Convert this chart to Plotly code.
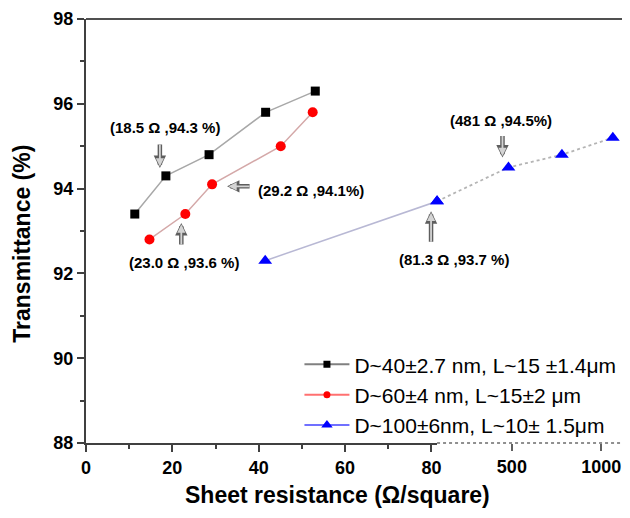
import plotly.graph_objects as go

# ---- data ----
black_x = [11.3, 18.5, 28.5, 41.6, 53.1]
black_y = [93.4, 94.3, 94.8, 95.8, 96.3]
red_x = [14.7, 23.0, 29.2, 45.1, 52.5]
red_y = [92.8, 93.4, 94.1, 95.0, 95.8]
blue_x = [41.5, 81.3, 481, 780, 1065]
blue_y = [92.3, 93.7, 94.5, 94.8, 95.2]

names = ["D~40±2.7 nm, L~15 ±1.4μm", "D~60±4 nm, L~15±2 μm", "D~100±6nm, L~10± 1.5μm"]

x1_ticks = [0, 20, 40, 60, 80]
x2_ticks = [500, 1000]
y_ticks = [88, 90, 92, 94, 96, 98]

BREAK = 81.3
X2_END = 1133

FONT = "Liberation Sans, Arial, sans-serif"

fig = go.Figure()

fig.add_trace(go.Scatter(x=black_x, y=black_y, mode="lines+markers", xaxis="x", yaxis="y",
                         line=dict(color="#a8a8a8", width=1.5),
                         marker=dict(symbol="square", size=9, color="black"), showlegend=False))
fig.add_trace(go.Scatter(x=red_x, y=red_y, mode="lines+markers", xaxis="x", yaxis="y",
                         line=dict(color="#d4a8a8", width=1.5),
                         marker=dict(symbol="circle", size=10, color="#ff0000"), showlegend=False))
fig.add_trace(go.Scatter(x=blue_x[:2], y=blue_y[:2], mode="lines+markers", xaxis="x", yaxis="y",
                         line=dict(color="#b8b8d4", width=1.5), cliponaxis=False,
                         marker=dict(symbol="triangle-up", size=12, color="#0000ff"), showlegend=False))
fig.add_trace(go.Scatter(x=blue_x[1:], y=blue_y[1:], mode="lines+markers", xaxis="x2", yaxis="y",
                         line=dict(color="#b4b4b4", width=1.8, dash="dot"), cliponaxis=False,
                         marker=dict(symbol="triangle-up", size=12, color="#0000ff"), showlegend=False))

# legend-only entries
leg_styles = [("#808080", "square", 7, "black"),
              ("#ff7070", "circle", 7, "#ff0000"),
              ("#7070ff", "triangle-up", 10, "#0000ff")]
for nm, (lc, sym, sz, mc) in zip(names, leg_styles):
    fig.add_trace(go.Scatter(x=[None], y=[None], mode="lines+markers", name=nm, xaxis="x", yaxis="y",
                             line=dict(color=lc, width=2), marker=dict(symbol=sym, size=sz, color=mc)))

f = (BREAK * 4.35) / 543.0

annos = []
# (xref, x, y, text, text dx, text dy, arrow head dx, head dy, tail dx, tail dy)  [screen px, y down]
labels = [
    ("x", 18.5, 94.3, "(18.5 Ω ,94.3 %)", -1, -48, -6, -8, -6, -33),
    ("x", 29.2, 94.1, "(29.2 Ω ,94.1%)", 99, 6, 15, 2, 39, 2),
    ("x", 23.0, 93.4, "(23.0 Ω ,93.6 %)", -1, 48, -4, 9, -4, 32),
    ("x2", 481, 94.5, "(481 Ω ,94.5%)", -7, -47, -6, -10, -6, -33),
    ("x", 81.3, 93.7, "(81.3 Ω ,93.7 %)", 17, 58, -6, 10, -6, 42),
]
for xr, x, y, t, tdx, tdy, hdx, hdy, adx, ady in labels:
    annos.append(dict(xref=xr, yref="y", x=x, y=y, text="<b>%s</b>" % t, showarrow=False,
                      xshift=tdx, yshift=-tdy, font=dict(family=FONT, size=15, color="black")))
    # hollow-looking block arrow: dark outline + light fill
    annos.append(dict(xref=xr, yref="y", x=x, y=y, text="", showarrow=True,
                      xshift=hdx, yshift=-hdy, ax=adx - hdx, ay=ady - hdy,
                      arrowhead=2, arrowsize=0.55, arrowwidth=4.5, arrowcolor="#5e5e5e"))
    annos.append(dict(xref=xr, yref="y", x=x, y=y, text="", showarrow=True,
                      xshift=hdx, yshift=-hdy, ax=adx - hdx, ay=ady - hdy, standoff=1.5,
                      arrowhead=2, arrowsize=0.9, arrowwidth=1.8, arrowcolor="#d4d4d4"))

annos.append(dict(xref="paper", yref="paper", x=0.467, y=0, yshift=-52, yanchor="middle",
                  text="<b>Sheet resistance (Ω/square)</b>", showarrow=False,
                  font=dict(family=FONT, size=23, color="black")))
annos.append(dict(xref="paper", yref="paper", x=0, y=0.47, xshift=-64, xanchor="center",
                  yanchor="middle", textangle=-90,
                  text="<b>Transmittance (%)</b>", showarrow=False,
                  font=dict(family=FONT, size=23, color="black")))

# page body has an 8px margin: figure is sized/placed to compensate
fig.update_layout(
    width=622, height=510,
    margin=dict(l=78, r=1, t=11, b=67 + 8),
    paper_bgcolor="white", plot_bgcolor="white",
    font=dict(family=FONT, color="black"),
    xaxis=dict(domain=[0, f], range=[0, BREAK], tickvals=x1_ticks,
               ticktext=["<b>%d</b>" % v for v in x1_ticks],
               tickfont=dict(size=18), ticks="outside", ticklen=7, tickwidth=2, tickcolor="#404040",
               minor=dict(dtick=10, ticks="outside", ticklen=4, tickwidth=2, tickcolor="#404040"),
               showline=True, linecolor="#404040", linewidth=2, showgrid=False, zeroline=False),
    xaxis2=dict(domain=[f, 1], range=[BREAK, X2_END], anchor="y", tickvals=x2_ticks,
                ticktext=["<b>%d</b>" % v for v in x2_ticks],
                tickfont=dict(size=18), ticks="outside", ticklen=7, tickwidth=2, tickcolor="#606060",
                showline=False, showgrid=False, zeroline=False),
    yaxis=dict(range=[88, 98], tickvals=y_ticks, ticktext=["<b>%d</b>" % v for v in y_ticks],
               tickfont=dict(size=18), ticks="outside", ticklen=7, tickwidth=2, tickcolor="#404040",
               minor=dict(dtick=1, ticks="outside", ticklen=4, tickwidth=2, tickcolor="#404040"),
               showline=True, linecolor="#404040", linewidth=2, showgrid=False, zeroline=False),
    legend=dict(x=0.396, y=0.233, xanchor="left", yanchor="top", bgcolor="rgba(0,0,0,0)",
                font=dict(family=FONT, size=21, color="black"), itemwidth=45, tracegroupgap=0),
    annotations=annos,
    shapes=[
        dict(type="line", xref="paper", yref="paper", x0=0, x1=1, y0=1, y1=1,
             line=dict(color="#505050", width=2)),
        dict(type="line", xref="paper", yref="paper", x0=1, x1=1, y0=0, y1=1,
             line=dict(color="#909090", width=1.5)),
        dict(type="line", xref="x2 domain", yref="paper", x0=0, x1=1, y0=0, y1=0,
             line=dict(color="#909090", width=2, dash="dot")),
    ],
)

fig.write_html("out.html")
